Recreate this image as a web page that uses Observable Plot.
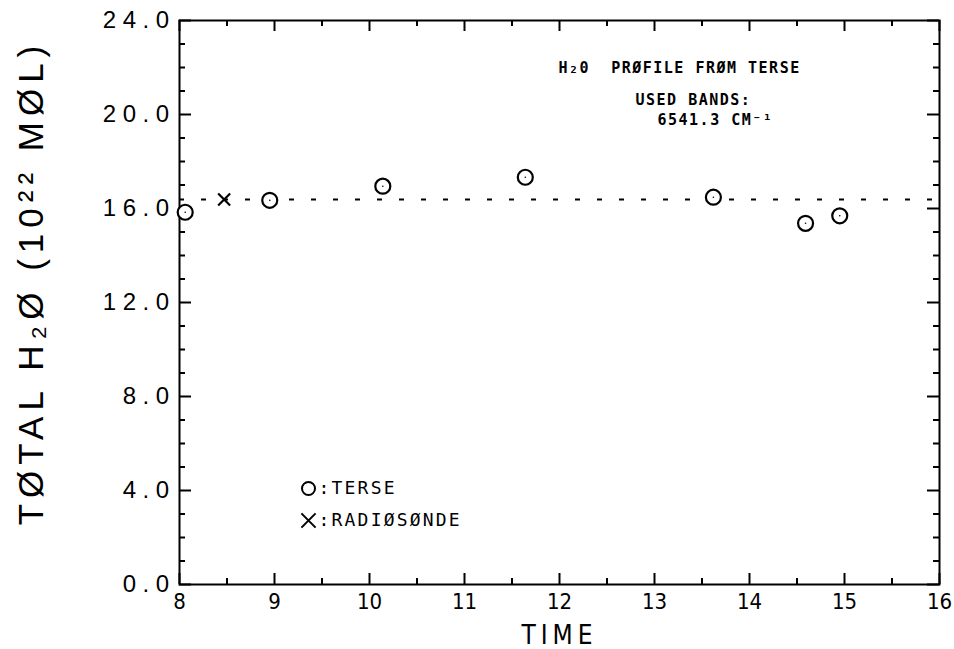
<!DOCTYPE html>
<html>
<head>
<meta charset="utf-8">
<script src="https://cdn.jsdelivr.net/npm/d3@7"></script>
<script src="https://cdn.jsdelivr.net/npm/@observablehq/plot@0.6"></script>
<style>
  html, body { margin: 0; padding: 0; background: #fff; }
  #chart svg { display: block; }
</style>
</head>
<body>
<div id="chart"></div>
<script>
// ---- data ----
const terseTime = [8.06, 8.95, 10.14, 11.64, 13.62, 14.59, 14.95];
const terseH2O  = [15.84, 16.35, 16.95, 17.33, 16.48, 15.37, 15.69];
const sondeTime = [8.47];
const sondeH2O  = [16.38];

const xMajorTicks = [8, 9, 10, 11, 12, 13, 14, 15, 16];
const xMinorTicks = [8.5, 9.5, 10.5, 11.5, 12.5, 13.5, 14.5, 15.5];
const yMajorTicks = [0, 4, 8, 12, 16, 20, 24];
const yMinorTicks = [1, 2, 3, 5, 6, 7, 9, 10, 11, 13, 14, 15, 17, 18, 19, 21, 22, 23];

const titleLines = ["H\u20820  PR\u00D8FILE FR\u00D8M TERSE"];
const bandLines = ["USED BANDS:", "6541.3 CM\u207B\u00B9"];
const legendLabels = [":TERSE", ":RADI\u00D8S\u00D8NDE"];
const xLabel = "TIME";
const yLabel = "T\u00D8TAL H\u2082\u00D8 (10\u00B2\u00B2 M\u00D8L)";

const terse = terseTime.map((t, i) => ({time: t, h2o: terseH2O[i]}));
const sonde = sondeTime.map((t, i) => ({time: t, h2o: sondeH2O[i]}));

// ---- layout ----
const W = 954, H = 649;
const mL = 179, mR = 15, mT = 20, mB = 65;
const iw = W - mL - mR, ih = H - mT - mB;
const font = "'Liberation Sans', 'DejaVu Sans', sans-serif";
const narrow = "'Liberation Sans Narrow', 'DejaVu Sans Condensed', 'Liberation Sans', sans-serif";
const mono = "'DejaVu Sans Mono', 'Liberation Mono', monospace";

// letter spacing applied to text marks, in the order they are declared below
const textSpacing = [0, 6.5, 5, 6, 1.5, 1.5, 1.5, 2.2, 2.2];

const plot = Plot.plot({
  width: W,
  height: H,
  marginLeft: mL,
  marginRight: mR,
  marginTop: mT,
  marginBottom: mB,
  style: {fontFamily: font, color: "#000", background: "#fff", overflow: "visible"},
  x: {domain: [8, 16], axis: null},
  y: {domain: [0, 24], axis: null},
  marks: [
    // bottom & top ticks (inward)
    Plot.tickX(xMajorTicks, {x: d => d, insetTop: ih - 11, stroke: "#000", strokeWidth: 2}),
    Plot.tickX(xMinorTicks, {x: d => d, insetTop: ih - 6, stroke: "#000", strokeWidth: 2}),
    Plot.tickX(xMajorTicks, {x: d => d, insetBottom: ih - 11, stroke: "#000", strokeWidth: 2}),
    Plot.tickX(xMinorTicks, {x: d => d, insetBottom: ih - 6, stroke: "#000", strokeWidth: 2}),
    // left & right ticks (inward)
    Plot.tickY(yMajorTicks, {y: d => d, insetRight: iw - 12, stroke: "#000", strokeWidth: 2}),
    Plot.tickY(yMinorTicks, {y: d => d, insetRight: iw - 6, stroke: "#000", strokeWidth: 2}),
    Plot.tickY(yMajorTicks, {y: d => d, insetLeft: iw - 12, stroke: "#000", strokeWidth: 2}),
    Plot.tickY(yMinorTicks, {y: d => d, insetLeft: iw - 6, stroke: "#000", strokeWidth: 2}),
    Plot.frame({stroke: "#000", strokeWidth: 2}),
    // tick labels
    Plot.text(xMajorTicks, {x: d => d, frameAnchor: "bottom", dy: 17, text: d => String(d),
      fontSize: 22, fontFamily: narrow, textAnchor: "middle", lineAnchor: "middle", fill: "#000"}),
    Plot.text(yMajorTicks, {y: d => d, frameAnchor: "left", dx: -4, text: d => d3.format(".1f")(d),
      fontSize: 24, textAnchor: "end", lineAnchor: "middle", fill: "#000"}),
    // axis labels
    Plot.text([xLabel], {frameAnchor: "bottom", dy: 51, text: d => d, fontSize: 26, fontFamily: narrow,
      textAnchor: "middle", lineAnchor: "middle", fill: "#000"}),
    Plot.text([yLabel], {frameAnchor: "left", dx: -148, dy: -20, rotate: -90, text: d => d, fontSize: 35,
      textAnchor: "middle", lineAnchor: "middle", fill: "#000"}),
    // radiosonde reference line
    Plot.ruleY(sondeH2O, {y: d => d, stroke: "#000", strokeWidth: 2, strokeDasharray: "5,17"}),
    // data
    Plot.dot(terse, {x: "time", y: "h2o", r: 7.5, stroke: "#000", strokeWidth: 2.2, fill: "#fff"}),
    Plot.dot(terse, {x: "time", y: "h2o", r: 0.8, fill: "#000"}),
    Plot.dot(sonde, {x: "time", y: "h2o", symbol: "times", r: 5.5, stroke: "#000", strokeWidth: 2.2}),
    // annotation
    Plot.text(titleLines, {frameAnchor: "top-left", dx: 379, dy: 48, text: d => d, fontSize: 15,
      fontFamily: mono, fontWeight: "bold", textAnchor: "start", lineAnchor: "middle", fill: "#000"}),
    Plot.text([bandLines[0]], {frameAnchor: "top-left", dx: 456, dy: 80, text: d => d, fontSize: 15,
      fontFamily: mono, fontWeight: "bold", textAnchor: "start", lineAnchor: "middle", fill: "#000"}),
    Plot.text([bandLines[1]], {frameAnchor: "top-left", dx: 478, dy: 100, text: d => d, fontSize: 15,
      fontFamily: mono, fontWeight: "bold", textAnchor: "start", lineAnchor: "middle", fill: "#000"}),
    // legend
    Plot.dot([0], {frameAnchor: "top-left", dx: 129, dy: 468, r: 6.5, stroke: "#000", strokeWidth: 2}),
    Plot.dot([0], {frameAnchor: "top-left", dx: 129, dy: 500, symbol: "times", r: 6.5, stroke: "#000", strokeWidth: 2}),
    Plot.text([legendLabels[0]], {frameAnchor: "top-left", dx: 139, dy: 468, text: d => d, fontSize: 18,
      fontFamily: mono, textAnchor: "start", lineAnchor: "middle", fill: "#000"}),
    Plot.text([legendLabels[1]], {frameAnchor: "top-left", dx: 139, dy: 500, text: d => d, fontSize: 18,
      fontFamily: mono, textAnchor: "start", lineAnchor: "middle", fill: "#000"})
  ]
});
document.getElementById("chart").appendChild(plot);

// apply letter spacing to the text-mark groups (declaration order)
const textGroups = Array.from(plot.querySelectorAll("g[aria-label='text']"));
textGroups.forEach((g, i) => {
  if (textSpacing[i]) g.setAttribute("letter-spacing", textSpacing[i] + "px");
});
</script>
</body>
</html>
